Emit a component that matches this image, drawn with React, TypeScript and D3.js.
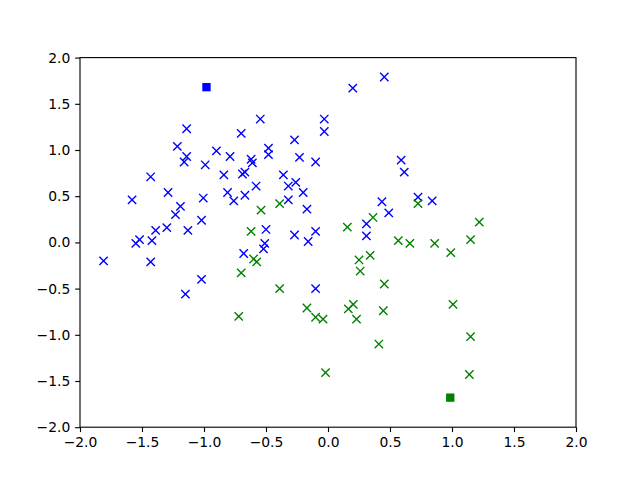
import { useEffect, useRef } from "react";
import * as d3 from "d3";

const WIDTH = 640;
const HEIGHT = 480;
const MARGIN = { top: 57.6, right: 64, bottom: 52.8, left: 80 };

// blue cluster, "x" markers
const blueX = [
  -1.81, -1.58, -1.55, -1.52, -1.43, -1.43, -1.42, -1.39, -1.29, -1.3, -1.23,
  -1.19, -1.215, -1.14, -1.16, -1.14, -1.13, -1.15, -1.02, -1.02, -1.006, -0.99,
  -0.9, -0.84, -0.81, -0.79, -0.76, -0.7, -0.69, -0.67, -0.67, -0.68, -0.62,
  -0.61, -0.58, -0.546, -0.52, -0.51, -0.5, -0.48, -0.48, -0.36, -0.32, -0.32,
  -0.27, -0.26, -0.27, -0.23, -0.2, -0.17, -0.16, -0.1, -0.1, -0.1, -0.03,
  -0.03, 0.2, 0.454, 0.59, 0.615, 0.435, 0.726, 0.84, 0.49, 0.31, 0.31,
];
const blueY = [
  -0.2, 0.46, -0.01, 0.03, 0.71, -0.21, 0.02, 0.13, 0.54, 0.16, 0.3, 0.39, 1.04,
  1.23, 0.87, 0.93, 0.13, -0.56, -0.4, 0.24, 0.48, 0.84, 0.99, 0.73, 0.54, 0.93,
  0.45, 1.18, 0.74, 0.76, 0.51, -0.12, 0.9, 0.86, 0.61, 1.335, -0.07, -0.01,
  0.14, 1.02, 0.95, 0.73, 0.61, 0.46, 1.11, 0.65, 0.08, 0.92, 0.54, 0.36, 0.01,
  0.87, 0.12, -0.5, 1.335, 1.2, 1.67, 1.79, 0.89, 0.76, 0.44, 0.49, 0.45, 0.32,
  0.2, 0.07,
];

// green cluster, "x" markers
const greenX = [
  -0.54, -0.39, -0.62, -0.6, -0.575, -0.7, -0.39, -0.72, -0.17, -0.1, -0.04,
  -0.02, 0.726, 0.363, 0.156, 1.22, 0.567, 0.66, 0.86, 1.15, 0.99, 0.25, 0.34,
  0.26, 0.454, 0.204, 0.164, 0.23, 0.446, 1.008, 0.41, 1.15, 1.14,
];
const greenY = [
  0.35, 0.42, 0.12, -0.18, -0.21, -0.33, -0.5, -0.8, -0.71, -0.81, -0.83, -1.41,
  0.42, 0.27, 0.165, 0.22, 0.02, -0.01, -0.01, 0.03, -0.11, -0.19, -0.14, -0.31,
  -0.45, -0.67, -0.72, -0.83, -0.74, -0.67, -1.1, -1.02, -1.43,
];

// cluster centres, square markers
const centreX = [-0.98, 0.986];
const centreY = [1.68, -1.68];
const centreColors = ["#0000ff", "#008000"];

const xTicks = [-2, -1.5, -1, -0.5, 0, 0.5, 1, 1.5, 2];
const yTicks = [-2, -1.5, -1, -0.5, 0, 0.5, 1, 1.5, 2];

const PT = 100 / 72;
const MS = 6 * PT;

export default function App() {
  const xAxisRef = useRef<SVGGElement>(null);
  const yAxisRef = useRef<SVGGElement>(null);
  const boundsWidth = WIDTH - MARGIN.left - MARGIN.right;
  const boundsHeight = HEIGHT - MARGIN.top - MARGIN.bottom;

  const xScale = d3.scaleLinear().domain([-2, 2]).range([0, boundsWidth]);
  const yScale = d3.scaleLinear().domain([-2, 2]).range([boundsHeight, 0]);
  const fmt = d3.format(".1f");

  useEffect(() => {
    const styleAxis = (g: d3.Selection<SVGGElement, unknown, null, undefined>) => {
      g.select(".domain").remove();
      g.selectAll(".tick line").attr("stroke", "#000").attr("stroke-width", 0.8 * PT);
      g.selectAll(".tick text")
        .attr("fill", "#000")
        .attr("font-family", "DejaVu Sans")
        .attr("font-size", 10 * PT);
    };
    const xg = d3.select(xAxisRef.current!);
    xg.selectAll("*").remove();
    xg.call(
      d3.axisBottom(xScale).tickValues(xTicks).tickFormat((d) => fmt(d as number))
        .tickSize(3.5 * PT).tickPadding(3.5 * PT)
    );
    styleAxis(xg);
    const yg = d3.select(yAxisRef.current!);
    yg.selectAll("*").remove();
    yg.call(
      d3.axisLeft(yScale).tickValues(yTicks).tickFormat((d) => fmt(d as number))
        .tickSize(3.5 * PT).tickPadding(3.5 * PT)
    );
    styleAxis(yg);
  }, [xScale, yScale]);

  const cross = (cx: number, cy: number, color: string, key: string) => {
    const h = MS / 2;
    return (
      <path
        key={key}
        d={`M${cx - h},${cy - h}L${cx + h},${cy + h}M${cx - h},${cy + h}L${cx + h},${cy - h}`}
        stroke={color}
        strokeWidth={PT}
        fill="none"
      />
    );
  };

  return (
    <svg
      width={WIDTH}
      height={HEIGHT}
      style={{ position: "absolute", left: 0, top: 0, background: "#fff" }}
    >
      <rect width={WIDTH} height={HEIGHT} fill="#fff" />
      <g transform={`translate(${MARGIN.left},${MARGIN.top})`}>
        {blueX.map((x, i) => cross(xScale(x), yScale(blueY[i]), "#0000ff", `b${i}`))}
        {greenX.map((x, i) => cross(xScale(x), yScale(greenY[i]), "#008000", `g${i}`))}
        {centreX.map((x, i) => (
          <rect
            key={`c${i}`}
            x={xScale(x) - MS / 2}
            y={yScale(centreY[i]) - MS / 2}
            width={MS}
            height={MS}
            fill={centreColors[i]}
          />
        ))}
        <rect
          width={boundsWidth}
          height={boundsHeight}
          fill="none"
          stroke="#000"
          strokeWidth={0.8 * PT}
        />
        <g ref={xAxisRef} transform={`translate(0,${boundsHeight})`} />
        <g ref={yAxisRef} />
      </g>
    </svg>
  );
}
